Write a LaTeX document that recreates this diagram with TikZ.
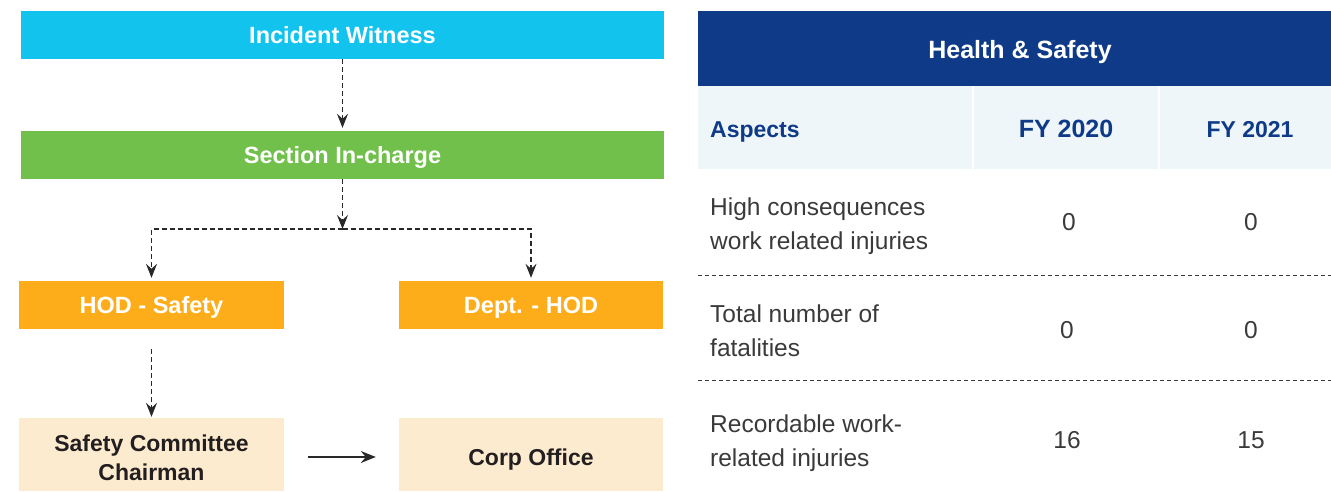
\documentclass[tikz,border=0pt]{standalone}
\usepackage{fontspec}
\setmainfont{Liberation Sans}
\usetikzlibrary{arrows.meta}
\definecolor{cyanbox}{RGB}{18,195,238}
\definecolor{greenbox}{RGB}{112,192,75}
\definecolor{orangebox}{RGB}{253,173,26}
\definecolor{beigebox}{RGB}{253,235,208}
\definecolor{navy}{RGB}{14,58,135}
\definecolor{lightbg}{RGB}{238,246,249}
\definecolor{bodytext}{RGB}{58,58,58}
\definecolor{darktext}{RGB}{35,31,32}
\definecolor{linecol}{RGB}{40,40,40}
\begin{document}
\begin{tikzpicture}[x=1pt,y=-1pt,
  flowbox/.style={inner sep=0pt, text=white, align=center, text height=17pt, text depth=0pt,
    font=\bfseries\fontsize{23.5}{27}\selectfont},
  lightbox/.style={inner sep=0pt, fill=beigebox, minimum height=73pt},
  lighttext/.style={inner sep=0pt, text=darktext, align=center, font=\bfseries\fontsize{23}{29}\selectfont},
  dsh/.style={draw=linecol, line width=1.1pt, dash pattern=on 5pt off 3pt, -{Stealth[length=14pt,width=11pt,inset=5pt]}},
  solidarrow/.style={draw=linecol, line width=1.2pt, -{Stealth[length=15pt,width=12pt,inset=5pt]}},
  hdrtext/.style={inner sep=0pt, text=white, text height=18pt, text depth=0pt, font=\bfseries\fontsize{25}{30}\selectfont},
  colhead/.style={inner sep=0pt, text=navy, text height=17pt, text depth=0pt, font=\bfseries\fontsize{#1}{28}\selectfont},
  bodycell/.style={inner sep=0pt, text=bodytext, align=left, anchor=west,
    font=\fontsize{24.5}{34}\selectfont},
  numcell/.style={inner sep=0pt, text=bodytext, font=\fontsize{24.5}{30}\selectfont},
  rowsep/.style={draw=bodytext, line width=0.9pt, dash pattern=on 4pt off 3pt}
]
\useasboundingbox (0,0) rectangle (1331,491);

% ---------- flow chart ----------
\node[flowbox, fill=cyanbox, minimum width=643pt, minimum height=48pt] (iw) at (342.5,35) {Incident Witness};
\node[flowbox, fill=greenbox, minimum width=643pt, minimum height=48pt] (sec) at (342.5,155) {Section In-charge};
\node[flowbox, fill=orangebox, minimum width=265pt, minimum height=48pt] (hs) at (151.5,305) {HOD - Safety};
\node[flowbox, fill=orangebox, minimum width=264pt, minimum height=48pt] (dh) at (531,305) {Dept. - HOD};
\node[lightbox, minimum width=265pt] (ch) at (151.5,454.5) {};
\node[lighttext] (chtext) at (151.5,457.5) {Safety Committee\\Chairman};
\node[lightbox, minimum width=264pt] (co) at (531,454.5) {};
\node[lighttext, text height=17pt, text depth=0pt] (cotext) at (531,457) {Corp Office};

\coordinate (j) at (342.5,229);
\draw[dsh, shorten >=3pt] (iw) -- (sec);
\draw[dsh] (sec.south) -- (j);
\draw[dsh, shorten >=3pt] (j) -| (hs.north);
\draw[dsh, shorten >=3pt] (j) -| (dh.north);
\draw[dsh, shorten <=20pt, shorten >=1pt] (hs) -- (ch);
\draw[solidarrow, shorten <=24pt, shorten >=23pt] (ch.east |- cotext.center) -- (co.west |- cotext.center);

% ---------- table ----------
\fill[navy] (698,11) rectangle (1331,86);
\node[hdrtext] (hdr) at (1020,49) {Health \& Safety};
\fill[lightbg] (698,86) rectangle (1331,169);
\draw[white, line width=2pt] (973,86) -- (973,169);
\draw[white, line width=2pt] (1159,86) -- (1159,169);
\node[colhead=23, anchor=west] (asp) at (710,129) {Aspects};
\node[colhead=25] (fy20) at (1066,129) {FY 2020};
\node[colhead=23] (fy21) at (1250,129) {FY 2021};

\node[bodycell] (r1) at (710,226) {High consequences\\work related injuries};
\node[numcell] (r1a) at (1069,222) {0};
\node[numcell] (r1b) at (1251,222) {0};
\draw[rowsep] (698,275) -- (1331,275);

\node[bodycell] (r2) at (710,331) {Total number of\\fatalities};
\node[numcell] (r2a) at (1067,330) {0};
\node[numcell] (r2b) at (1251,330) {0};
\draw[rowsep] (698,380) -- (1331,380);

\node[bodycell] (r3) at (710,443) {Recordable work-\\related injuries};
\node[numcell] (r3a) at (1067,440) {16};
\node[numcell] (r3b) at (1251,440) {15};
\end{tikzpicture}
\end{document}
